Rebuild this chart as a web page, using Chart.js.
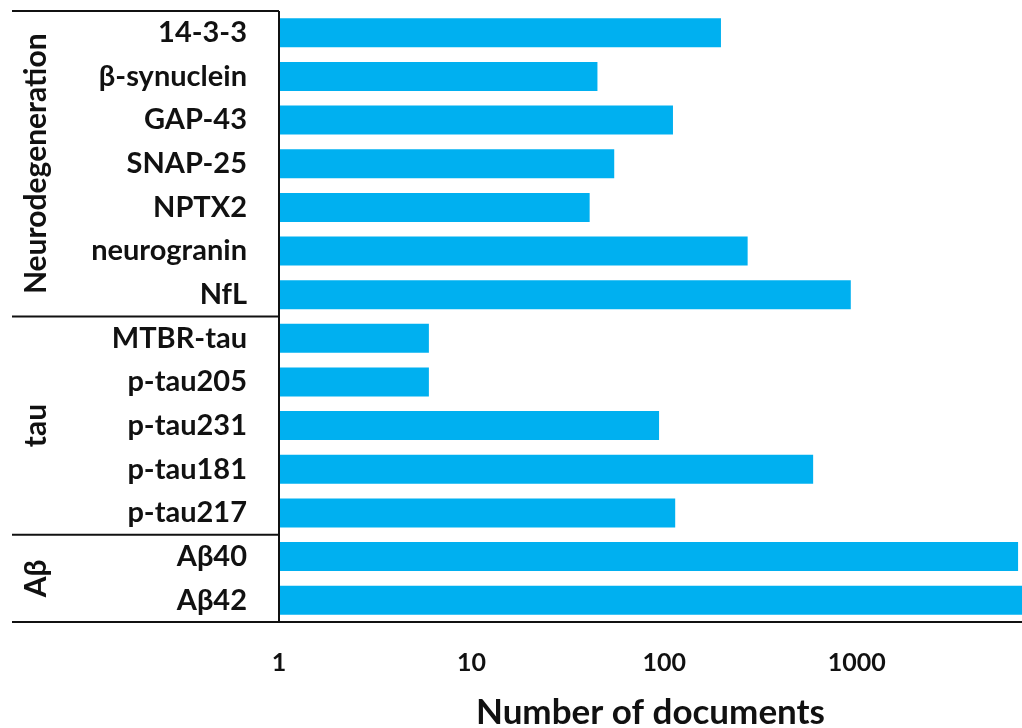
<!DOCTYPE html>
<html>
<head>
<meta charset="utf-8">
<script src="https://cdn.jsdelivr.net/npm/chart.js@4/dist/chart.umd.min.js"></script>
<style>
  html, body { margin: 0; padding: 0; background: #fff; overflow: hidden; }
  #wrap { position: relative; width: 1022px; height: 728px; }
</style>
</head>
<body>
<div id="wrap"><canvas id="chart"></canvas></div>
<script>
// Biomarkers, listed top to bottom
const markers = ['14-3-3', 'β-synuclein', 'GAP-43', 'SNAP-25', 'NPTX2', 'neurogranin', 'NfL',
                 'MTBR-tau', 'p-tau205', 'p-tau231', 'p-tau181', 'p-tau217',
                 'Aβ40', 'Aβ42'];
// Number of documents per biomarker
const documentCounts = [197, 45, 111, 55, 41, 271, 930,
                        6, 6, 94, 593, 114,
                        6870, 7600];
// Marker groups (consecutive runs of the list above)
const groupNames = ['Neurodegeneration', 'tau', 'Aβ'];
const groupSizes = [7, 5, 2];
// Log axis
const xTicks = [1, 10, 100, 1000];
const xMin = 1;
const xMax = 7200;

const FONT = 'Lato, "Open Sans", "Liberation Sans", sans-serif';
const INK = '#111';

// Draws the frame lines, the group separators and the rotated group names
const groupPlugin = {
  id: 'groupFrame',
  afterDraw(chart) {
    const { ctx, chartArea: a, scales: { y } } = chart;
    const leftX = 12;
    const boundary = k => (y.getPixelForValue(k - 1) + y.getPixelForValue(k)) / 2;

    ctx.save();
    ctx.strokeStyle = INK;
    ctx.lineWidth = 2;
    const seg = (x1, y1, x2, y2) => { ctx.beginPath(); ctx.moveTo(x1, y1); ctx.lineTo(x2, y2); ctx.stroke(); };

    seg(leftX, a.top, a.left, a.top);            // top edge of label panel
    seg(a.left, a.top, a.left, a.bottom);        // value axis baseline
    seg(leftX, a.bottom, chart.width, a.bottom); // bottom edge

    ctx.fillStyle = INK;
    ctx.font = 'bold 30px ' + FONT;
    ctx.textAlign = 'center';
    ctx.textBaseline = 'middle';
    let start = 0;
    groupSizes.forEach((n, i) => {
      const end = start + n;
      const yTop = start === 0 ? a.top : boundary(start);
      const yBot = end === markers.length ? a.bottom : boundary(end);
      if (end < markers.length) seg(leftX, yBot, a.left, yBot);
      ctx.save();
      ctx.translate(36, (yTop + yBot) / 2);
      ctx.rotate(-Math.PI / 2);
      ctx.fillText(groupNames[i], 0, 0);
      ctx.restore();
      start = end;
    });
    ctx.restore();
  }
};

new Chart(document.getElementById('chart'), {
  type: 'bar',
  data: {
    labels: markers,
    datasets: [{
      data: documentCounts,
      backgroundColor: '#00B0F0',
      borderWidth: 0,
      barPercentage: 0.665,
      categoryPercentage: 1.0
    }]
  },
  options: {
    indexAxis: 'y',
    responsive: true,
    maintainAspectRatio: false,
    devicePixelRatio: 1,
    animation: false,
    layout: { padding: { top: 11, right: 0, bottom: 0, left: 0 } },
    plugins: {
      legend: { display: false },
      tooltip: { enabled: false }
    },
    scales: {
      x: {
        type: 'logarithmic',
        min: xMin,
        max: xMax,
        afterBuildTicks: scale => { scale.ticks = xTicks.map(v => ({ value: v })); },
        afterFit: scale => { scale.height = 106; scale.paddingLeft = 0; scale.paddingRight = 0; },
        grid: { display: false, drawTicks: false },
        border: { display: false },
        ticks: {
          callback: v => String(v),
          color: INK,
          font: { family: FONT, size: 25, weight: 'bold' },
          padding: 26,
          maxRotation: 0,
          autoSkip: false
        },
        title: {
          display: true,
          text: 'Number of documents',
          color: INK,
          font: { family: FONT, size: 35, weight: 'bold', lineHeight: 1 },
          padding: { top: 0, bottom: -2 }
        }
      },
      y: {
        afterFit: scale => { scale.width = 279; scale.paddingTop = 0; scale.paddingBottom = 0; },
        grid: { display: false, drawTicks: false },
        border: { display: false },
        ticks: {
          color: INK,
          font: { family: FONT, size: 29, weight: 'bold' },
          padding: 32,
          autoSkip: false
        }
      }
    }
  },
  plugins: [groupPlugin]
});
</script>
</body>
</html>
